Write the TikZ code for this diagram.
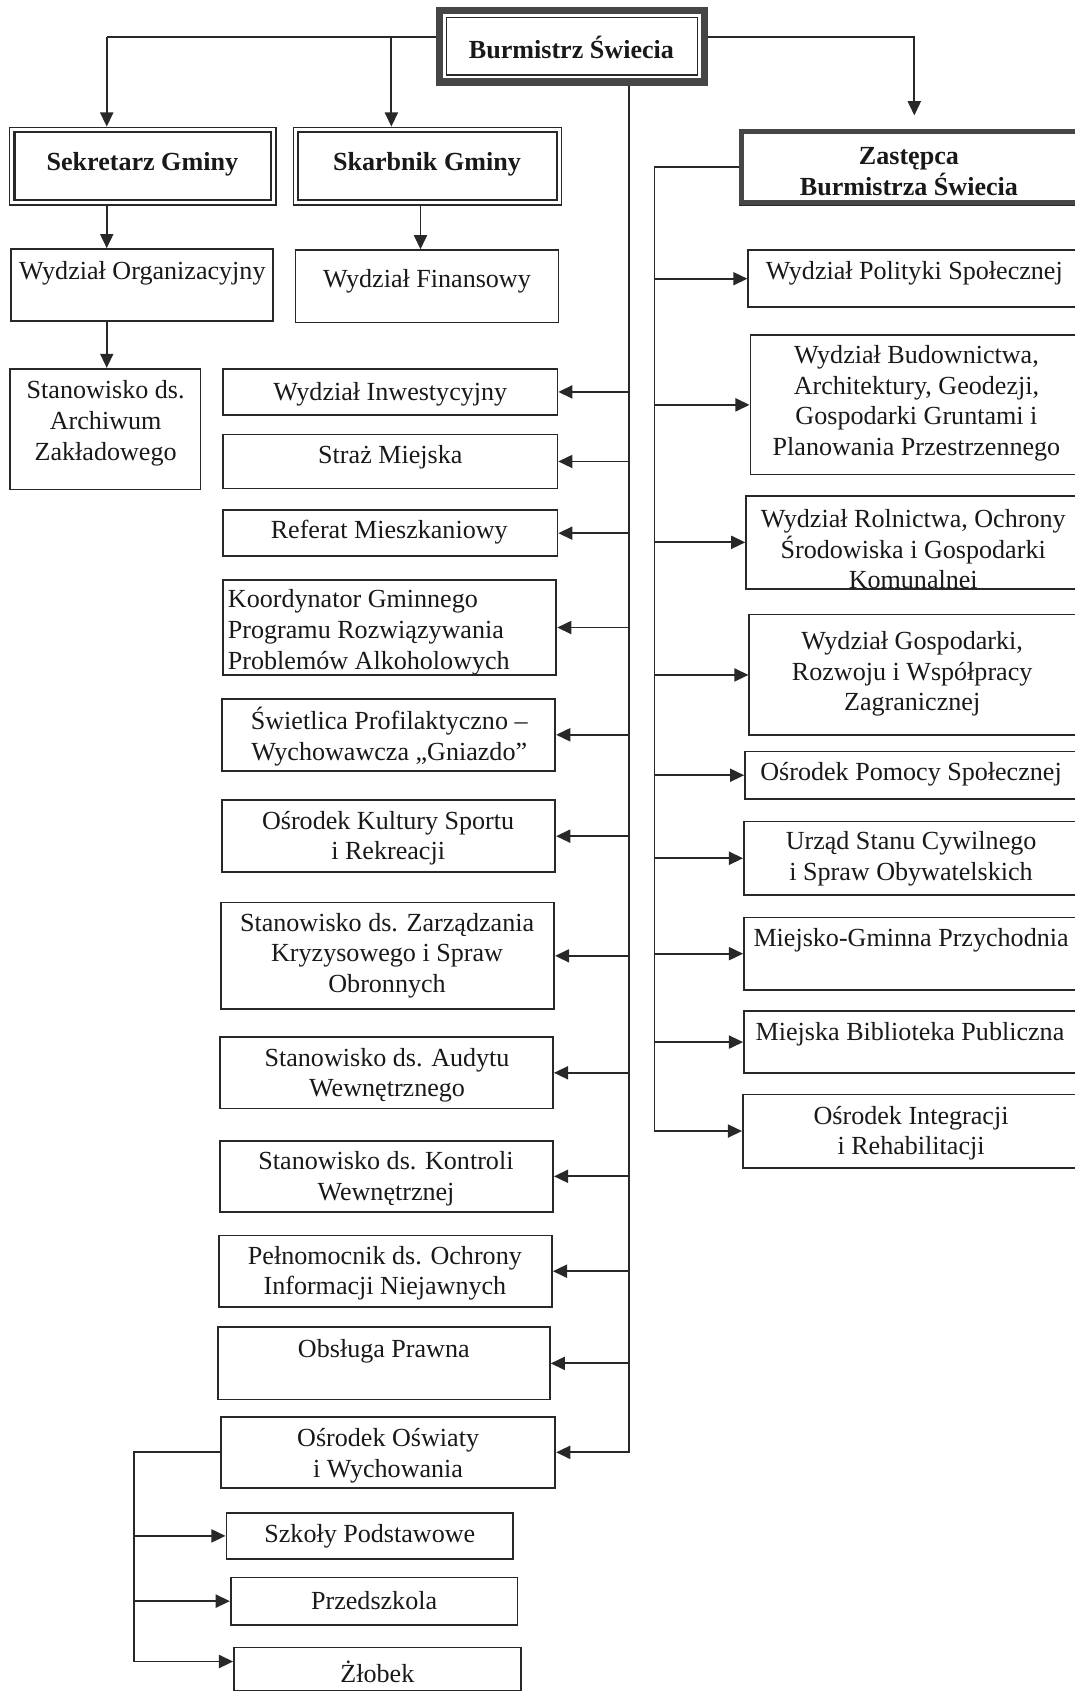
\documentclass[tikz,border=0pt]{standalone}
\usepackage{fontspec}
\setmainfont{Liberation Serif}
\usetikzlibrary{arrows.meta,fit,calc}
\definecolor{linec}{RGB}{40,40,40}
\definecolor{bandc}{RGB}{70,70,70}
\definecolor{textc}{RGB}{25,25,25}
\begin{document}
\begin{tikzpicture}[x=0.496pt,y=-0.496pt,
  box/.style={draw=linec,line width=0.8pt,inner sep=0pt},
  thin/.style={draw=linec,line width=0.6pt,inner sep=0pt},
  arr/.style={draw=linec,line width=0.85pt,-{Triangle[length=6.5pt,width=6pt]}},
  ln/.style={draw=linec,line width=0.85pt},
  txt/.style={font=\fontsize{12}{14.1}\selectfont,align=center,inner sep=0pt,text=textc,yshift=-1.7pt},
  btxt/.style={txt,font=\fontsize{12}{14.1}\selectfont\bfseries}]
\fill[white] (0,0) rectangle (997,1573);
\useasboundingbox (0,0) rectangle (997,1573);
\clip (0,0) rectangle (997,1573);

% --- top level boxes
\node[thin,fit={(405,7) (656,79)}] (B) {};
\draw[bandc,line width=3.3pt] ($(B.north west)+(3.5,3.5)$) rectangle ($(B.south east)+(-3.5,-3.5)$);
\draw[linec,line width=0.6pt] ($(B.north west)+(10,10)$) rectangle ($(B.south east)+(-10,-10)$);
\node[btxt] (tB) at (530,41) {Burmistrz Świecia};

\node[thin,fit={(9,118) (256,190)}] (S) {};
\draw[linec,line width=1.1pt] ($(S.north west)+(5,5)$) rectangle ($(S.south east)+(-5,-5)$);
\node[btxt] (tS) at (132,149) {Sekretarz Gminy};

\node[thin,fit={(272,118) (521,190)}] (K) {};
\draw[linec,line width=1.1pt] ($(K.north west)+(5,5)$) rectangle ($(K.south east)+(-5,-5)$);
\node[btxt] (tK) at (396,149) {Skarbnik Gminy};

\node[thin,fit={(686,120) (1010,190)}] (Z) {};
\draw[bandc,line width=2.4pt] ($(Z.north west)+(2.5,2.5)$) rectangle ($(Z.south east)+(-2.5,-2.5)$);
\node[btxt] (tZ) at (843,155.5) {Zastępca\\Burmistrza Świecia};

% --- left upper boxes
\node[box,fit={(10,231) (253,298)}] (WO) {};
\node[txt] (tWO) at (132,250) {Wydział Organizacyjny};
\node[box,fit={(274,232) (518,299)}] (WF) {};
\node[txt] (tWF) at (396,257) {Wydział Finansowy};
\node[box,fit={(9,342) (186,454)}] (SA) {};
\node[txt] (tSA) at (98,389) {Stanowisko ds.\\Archiwum\\Zakładowego};

% --- left column under the trunk
\node[box,fit={(207,342) (517,385)}] (L1) {};
\node[txt] (tL1) at (362,362) {Wydział Inwestycyjny};
\node[box,fit={(207,403) (517,453)}] (L2) {};
\node[txt] (tL2) at (362,421) {Straż Miejska};
\node[box,fit={(207,473) (517,516)}] (L3) {};
\node[txt] (tL3) at (361,490) {Referat Mieszkaniowy};
\node[box,fit={(207,538) (516,626)}] (L4) {};
\node[txt,align=left,anchor=west] (tL4) at (211,583) {Koordynator Gminnego\\Programu Rozwiązywania\\Problemów Alkoholowych};
\node[box,fit={(206,648) (515,715)}] (L5) {};
\node[txt] (tL5) at (361,680) {Świetlica Profilaktyczno –\\Wychowawcza „Gniazdo”};
\node[box,fit={(206,742) (515,809)}] (L6) {};
\node[txt] (tL6) at (360,774) {Ośrodek Kultury Sportu\\i Rekreacji};
\node[box,fit={(205,837) (514,936)}] (L7) {};
\node[txt] (tL7) at (359,883) {Stanowisko ds. Zarządzania\\Kryzysowego i Spraw\\Obronnych};
\node[box,fit={(204,962) (513,1028)}] (L8) {};
\node[txt] (tL8) at (359,994) {Stanowisko ds. Audytu\\Wewnętrznego};
\node[box,fit={(204,1058) (513,1124)}] (L9) {};
\node[txt] (tL9) at (358,1090) {Stanowisko ds. Kontroli\\Wewnętrznej};
\node[box,fit={(203,1146) (512,1212)}] (L10) {};
\node[txt] (tL10) at (357,1177.5) {Pełnomocnik ds. Ochrony\\Informacji Niejawnych};
\node[box,fit={(202,1231) (510,1298)}] (L11) {};
\node[txt] (tL11) at (356,1250) {Obsługa Prawna};
\node[box,fit={(205,1314) (515,1380)}] (OO) {};
\node[txt] (tOO) at (360,1346.5) {Ośrodek Oświaty\\i Wychowania};

\node[box,fit={(210,1403) (476,1446)}] (SP) {};
\node[txt] (tSP) at (343,1421) {Szkoły Podstawowe};
\node[box,fit={(214,1463) (480,1507)}] (PR) {};
\node[txt] (tPR) at (347,1481) {Przedszkola};
\node[box,fit={(217,1528) (483,1568)}] (ZL) {};
\node[txt] (tZL) at (350,1547) {Żłobek};

% --- right column
\node[box,fit={(694,232) (1010,285)}] (R1) {};
\node[txt] (tR1) at (848,250) {Wydział Polityki Społecznej};
\node[box,fit={(696,311) (1010,440)}] (R2) {};
\node[txt] (tR2) at (850,370.5) {Wydział Budownictwa,\\Architektury, Geodezji,\\Gospodarki Gruntami i\\Planowania Przestrzennego};
\node[box,fit={(692,460) (1010,546)}] (R3) {};
\node[txt] (tR3) at (847,506) {Wydział Rolnictwa, Ochrony\\Środowiska i Gospodarki\\Komunalnei};
\node[box,fit={(695,570) (1010,682)}] (R4) {};
\node[txt] (tR4) at (846,621.5) {Wydział Gospodarki,\\Rozwoju i Współpracy\\Zagranicznej};
\node[box,fit={(691,697) (1010,741)}] (R5) {};
\node[txt] (tR5) at (845,715) {Ośrodek Pomocy Społecznej};
\node[box,fit={(690,762) (1010,830)}] (R6) {};
\node[txt] (tR6) at (845,793) {Urząd Stanu Cywilnego\\i Spraw Obywatelskich};
\node[box,fit={(690,851) (1010,918)}] (R7) {};
\node[txt] (tR7) at (845,869) {Miejsko-Gminna Przychodnia};
\node[box,fit={(690,938) (1010,995)}] (R8) {};
\node[txt] (tR8) at (844,956) {Miejska Biblioteka Publiczna};
\node[box,fit={(689,1015) (1010,1083)}] (R9) {};
\node[txt] (tR9) at (845,1047.5) {Ośrodek Integracji\\i Rehabilitacji};

% --- coordinates for connector bends
\coordinate (sj) at (99,34);
\coordinate (kj) at (363,34);
\coordinate (zt) at (848,107);
\coordinate (kx) at (390,0);
\coordinate (tr) at (583,0);
\coordinate (rt) at (607,0);
\coordinate (ot) at (124,0);
\coordinate (zlj) at (124,1541);

% --- connectors from Burmistrz
\draw[ln] (B.west |- sj) -- (sj);
\draw[arr] (sj) -- (sj |- S.north);
\draw[arr] (kj) -- (kj |- K.north);
\draw[arr] (B.east |- sj) -| (zt);
\draw[arr] (S.south -| sj) -- (WO.north -| sj);
\draw[arr] (K.south -| kx) -- (WF.north -| kx);
\draw[arr] (WO.south -| sj) -- (SA.north -| sj);

% --- main trunk
\draw[arr] (tr |- B.south) |- (OO.east);
\foreach \n in {L1,L2,L3,L4,L5,L6,L7,L8,L9,L10,L11}
  \draw[arr] (tr |- \n.east) -- (\n.east);

% --- right trunk
\draw[arr] (Z.west) -| (rt |- R9.west) -- (R9.west);
\foreach \n in {R1,R2,R3,R4,R5,R6,R7,R8}
  \draw[arr] (rt |- \n.west) -- (\n.west);

% --- education subtree
\draw[arr] (OO.west) -| (zlj) -- (zlj -| ZL.west);
\draw[arr] (ot |- SP.west) -- (SP.west);
\draw[arr] (ot |- PR.west) -- (PR.west);
\end{tikzpicture}
\end{document}
